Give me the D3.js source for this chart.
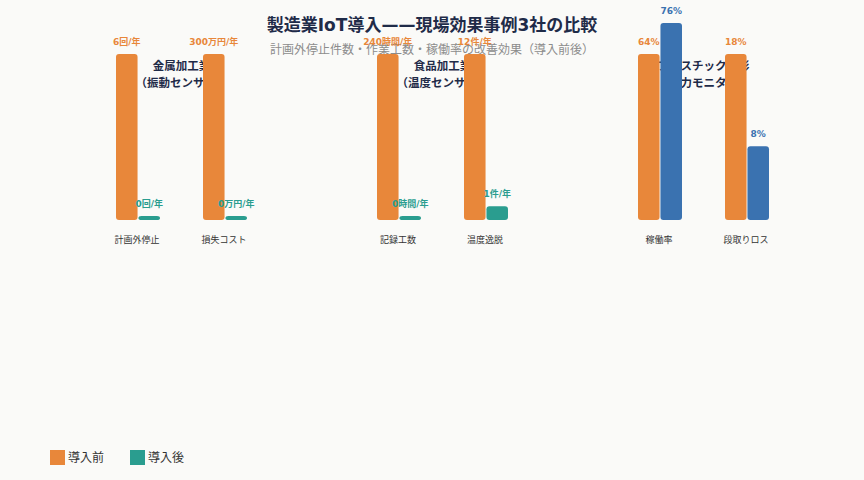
<!DOCTYPE html>
<html>
<head>
<meta charset="utf-8">
<script src="https://cdn.jsdelivr.net/npm/d3@7"></script>
<style>
  html, body { margin: 0; padding: 0; background: #fafaf8; }
  svg text { font-family: "DejaVu Sans", "Noto Sans CJK JP", sans-serif; }
</style>
</head>
<body>
<div id="chart"></div>
<script>
// data
const companies = ["金属加工業", "食品加工業", "プラスチック成形"];
const sensors = ["（振動センサー）", "（温度センサー）", "（電力モニター）"];
const categories = [
  ["計画外停止", "損失コスト"],
  ["記録工数", "温度逸脱"],
  ["稼働率", "段取りロス"]
];
const beforeVals = [[6, 300], [240, 12], [64, 18]];
const afterVals = [[0, 0], [0, 1], [76, 8]];
const units = [["回/年", "万円/年"], ["時間/年", "件/年"], ["%", "%"]];
const legendLabels = ["導入前", "導入後"];

const W = 864, H = 480;
const cBefore = "#e8873a", cAfter = "#2a9d8f", cAfterAlt = "#3a72b0";
const afterColor = [cAfter, cAfter, cAfterAlt];

const svg = d3.select("#chart").append("svg")
  .attr("width", W).attr("height", H);

svg.append("rect").attr("width", W).attr("height", H).attr("fill", "#fafaf8");

// titles
svg.append("text")
  .attr("x", W / 2).attr("y", 31)
  .attr("text-anchor", "middle")
  .attr("font-size", 17).attr("font-weight", "bold")
  .attr("fill", "#1f2b48")
  .text("製造業IoT導入——現場効果事例3社の比較");
svg.append("text")
  .attr("x", W / 2).attr("y", 54)
  .attr("text-anchor", "middle")
  .attr("font-size", 12)
  .attr("fill", "#8c8c8c")
  .text("計画外停止件数・作業工数・稼働率の改善効果（導入前後）");

// scales
const xPanel = d3.scaleBand().domain(d3.range(companies.length)).range([51, 834]);
const baseY = 220, topY = 54;

companies.forEach((name, i) => {
  const x0 = xPanel(i);
  const xCat = d3.scalePoint().domain(categories[i]).range([x0, x0 + xPanel.bandwidth()]).padding(1);
  const xSub = d3.scaleBand().domain(["before", "after"]).range([-22, 22]).paddingInner(0.04);
  const g = svg.append("g");
  const cx = x0 + xPanel.bandwidth() / 2;

  // panel title (sits under bars)
  g.append("text").attr("x", cx).attr("y", 70)
    .attr("text-anchor", "middle").attr("font-size", 11.5).attr("font-weight", "bold")
    .attr("fill", "#1f2b48").text(name);
  g.append("text").attr("x", cx).attr("y", 87)
    .attr("text-anchor", "middle").attr("font-size", 11.5).attr("font-weight", "bold")
    .attr("fill", "#1f2b48").text(sensors[i]);

  const labels = [];
  categories[i].forEach((cat, j) => {
    const y = d3.scaleLinear().domain([0, beforeVals[i][j]]).range([baseY, topY]);
    const c = xCat(cat);
    const items = [
      { key: "before", v: beforeVals[i][j], color: cBefore },
      { key: "after", v: afterVals[i][j], color: afterColor[i] }
    ];
    items.forEach(d => {
      let top = y(d.v);
      if (baseY - top < 4) top = baseY - 4;
      g.append("rect")
        .attr("x", c + xSub(d.key)).attr("y", top)
        .attr("width", xSub.bandwidth()).attr("height", baseY - top)
        .attr("rx", 3).attr("fill", d.color);
      labels.push({ x: c + xSub(d.key) + xSub.bandwidth() / 2, y: top - 9, t: d.v + units[i][j], color: d.color });
    });
    g.append("text").attr("x", c - 1).attr("y", 243)
      .attr("text-anchor", "middle").attr("font-size", 9)
      .attr("fill", "#333").text(cat);
  });

  g.selectAll("text.val").data(labels).enter().append("text")
    .attr("class", "val")
    .attr("x", d => d.x).attr("y", d => d.y)
    .attr("text-anchor", "middle").attr("font-size", 9).attr("font-weight", "bold")
    .attr("fill", d => d.color).text(d => d.t);
});

// legend
const legend = svg.append("g").attr("transform", "translate(50,450)");
[cBefore, cAfter].forEach((col, k) => {
  const lg = legend.append("g").attr("transform", `translate(${k * 80},0)`);
  lg.append("rect").attr("width", 15).attr("height", 15).attr("fill", col);
  lg.append("text").attr("x", 18).attr("y", 12).attr("font-size", 12)
    .attr("fill", "#333").text(legendLabels[k]);
});
</script>
</body>
</html>
